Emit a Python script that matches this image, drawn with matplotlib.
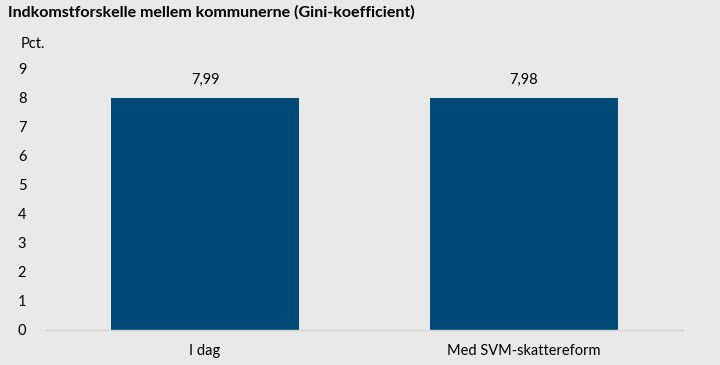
import matplotlib
matplotlib.use('Agg')
import matplotlib.pyplot as plt

categories = ['I dag', 'Med SVM-skattereform']
values = [7.99, 7.98]
value_labels = ['7,99', '7,98']
y_ticks = [0, 1, 2, 3, 4, 5, 6, 7, 8, 9]

plt.rcParams['font.family'] = ['Lato', 'DejaVu Sans']

bg = '#E8E8E8'
bar_colour = '#004A77'

fig = plt.figure(figsize=(7.2, 3.65), dpi=100)
fig.patch.set_facecolor(bg)
ax = fig.add_axes([0.0635, 0.0959, 0.885, 0.7167])
ax.set_facecolor(bg)

x = range(len(categories))
ax.bar(x, values, width=0.59, color=bar_colour, zorder=2)
for xi, v, lab in zip(x, values, value_labels):
    ax.annotate(lab, (xi, v), xytext=(0, 8), textcoords='offset points',
                ha='center', va='bottom', fontsize=10.5, color='black')

ax.set_xlim(-0.5, 1.5)
ax.set_ylim(0, 9)
ax.set_yticks(y_ticks)
ax.set_yticklabels([str(t) for t in y_ticks], fontsize=10.5)
ax.set_xticks(list(x))
ax.set_xticklabels(categories, fontsize=10.5)
ax.tick_params(axis='both', length=0)
ax.tick_params(axis='y', pad=14)
ax.tick_params(axis='x', pad=10)
for s in ['top', 'right', 'left']:
    ax.spines[s].set_visible(False)
ax.spines['bottom'].set_color('#D4D4D4')
ax.spines['bottom'].set_linewidth(1.0)

fig.text(0.011, 0.965, 'Indkomstforskelle mellem kommunerne (Gini-koefficient)',
         fontsize=11.5, fontweight='bold', ha='left', va='center')
fig.text(0.028, 0.88, 'Pct.', fontsize=10.5, ha='left', va='center')

fig.savefig('out.png', dpi=100, facecolor=bg)
